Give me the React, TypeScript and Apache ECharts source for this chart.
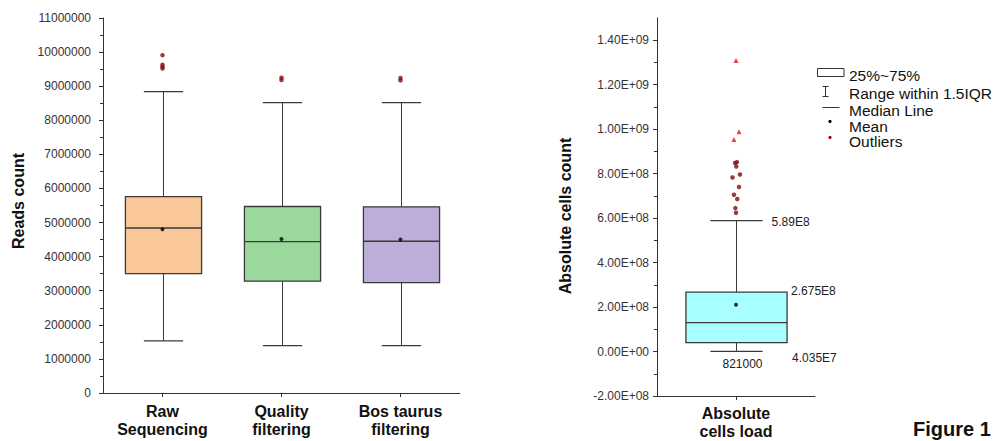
import { useEffect, useRef } from "react";
import * as echarts from "echarts";

// ---- Reads per sample ----
const readCategories = ["Raw\nSequencing", "Quality\nfiltering", "Bos taurus\nfiltering"];
// [lower whisker, Q1, median, Q3, upper whisker]
const readBoxes = [
  [1530000, 3500000, 4840000, 5760000, 8840000],
  [1390000, 3280000, 4440000, 5470000, 8520000],
  [1390000, 3240000, 4450000, 5460000, 8520000],
];
const readMeans = [4800000, 4520000, 4500000];
// [category index, value]
const readOutliers = [
  [0, 9910000], [0, 9630000], [0, 9570000], [0, 9520000],
  [1, 9250000], [1, 9180000],
  [2, 9240000], [2, 9170000],
];
const readColors = ["#fac898", "#9ad89c", "#bcaed8"];
const readTicks = { min: 0, max: 11000000, interval: 1000000 };

// ---- Absolute cells load ----
const cellCategories = ["Absolute\ncells load"];
const cellBox = [821000, 40350000, 130000000, 267500000, 589000000];
const cellMean = 210000000;
// [horizontal jitter inside the band, value]
const cellOutliers = [
  [0.006, 852e6], [-0.006, 848e6], [0.002, 832e6], [0.025, 796e6],
  [-0.022, 783e6], [0.019, 740e6], [-0.013, 705e6], [0.008, 686e6],
  [-0.004, 645e6], [0.0, 624e6],
];
const cellExtremes = [[0.0, 1309e6], [0.019, 988e6], [-0.013, 954e6]];
const cellColors = ["#a8ffff"];
const cellTicks = { min: -2e8, max: 1.5e9, interval: 2e8 };
const cellTickValues = [-2e8, 0, 2e8, 4e8, 6e8, 8e8, 1e9, 1.2e9, 1.4e9];

const legendItems = ["25%~75%", "Range within 1.5IQR", "Median Line", "Mean", "Outliers"];

const FONT = "'Liberation Sans', Arial, Helvetica, sans-serif";
const INK = "#3a3a3a";

function sciTick(v: number): string {
  const [m, e] = v.toExponential(2).split("e");
  const n = parseInt(e, 10);
  const sign = n < 0 ? "-" : "+";
  return `${m}E${sign}${String(Math.abs(n)).padStart(2, "0")}`;
}

function shortSci(v: number): string {
  if (Math.abs(v) < 1e6) return String(v);
  const e = Math.floor(Math.log10(Math.abs(v)));
  const m = parseFloat((v / Math.pow(10, e)).toPrecision(6));
  return `${m}E${e}`;
}

function boxRenderer(colors: string[], annotate: boolean) {
  return (_params: any, api: any) => {
    const cat = api.value(0);
    const lo = api.value(1), q1 = api.value(2), med = api.value(3), q3 = api.value(4), hi = api.value(5);
    const band = api.size([1, 0])[0];
    const cx = Math.round(api.coord([cat, med])[0]) + 0.5;
    const y = (v: number) => api.coord([cat, v])[1];
    const bw = band * 0.64;
    const cw = band * 0.33;
    const line = { stroke: INK, lineWidth: 1 };
    const children: any[] = [
      { type: "line", shape: { x1: cx, y1: y(lo), x2: cx, y2: y(q1) }, style: line },
      { type: "line", shape: { x1: cx, y1: y(q3), x2: cx, y2: y(hi) }, style: line },
      { type: "line", shape: { x1: cx - cw / 2, y1: y(lo), x2: cx + cw / 2, y2: y(lo) }, style: { stroke: INK, lineWidth: 1.3 } },
      { type: "line", shape: { x1: cx - cw / 2, y1: y(hi), x2: cx + cw / 2, y2: y(hi) }, style: { stroke: INK, lineWidth: 1.3 } },
      {
        type: "rect",
        shape: { x: cx - bw / 2, y: y(q3), width: bw, height: y(q1) - y(q3) },
        style: { fill: colors[cat], stroke: INK, lineWidth: 1.3 },
      },
      { type: "line", shape: { x1: cx - bw / 2, y1: y(med), x2: cx + bw / 2, y2: y(med) }, style: { stroke: INK, lineWidth: 1.4 } },
    ];
    if (annotate) {
      const t = { fill: "#222", fontSize: 12, fontFamily: FONT };
      children.push(
        { type: "text", style: { ...t, text: shortSci(hi), x: cx + cw / 2 + 9, y: y(hi) + 1.5, align: "left", verticalAlign: "middle" } },
        { type: "text", style: { ...t, text: shortSci(q3), x: cx + bw / 2 + 4, y: y(q3) - 1.5, align: "left", verticalAlign: "middle" } },
        { type: "text", style: { ...t, text: shortSci(q1), x: cx + bw / 2 + 5, y: y(q1) + 15, align: "left", verticalAlign: "middle" } },
        { type: "text", style: { ...t, text: shortSci(lo), x: cx + 6, y: y(lo) + 13, align: "center", verticalAlign: "middle" } },
      );
    }
    return { type: "group", children };
  };
}

const axisLineStyle = { show: true, onZero: false, lineStyle: { color: "#333", width: 1 } };
const catLabel = {
  interval: 0,
  fontSize: 16,
  fontWeight: "bold" as const,
  color: "#111",
  lineHeight: 18.5,
  fontFamily: FONT,
};

export default function App() {
  const ref = useRef<HTMLDivElement>(null);

  useEffect(() => {
    if (!ref.current) return;
    const chart = echarts.init(ref.current, null, { renderer: "svg" });

    const option: any = {
      animation: false,
      backgroundColor: "#fff",
      textStyle: { fontFamily: FONT },
      grid: [
        { left: 103, top: 18, width: 357, height: 375, containLabel: false, outerBoundsMode: "none" },
        { left: 657, top: 18, width: 158, height: 378, containLabel: false, outerBoundsMode: "none" },
      ],
      xAxis: [
        {
          type: "category",
          gridIndex: 0,
          data: readCategories,
          axisLine: axisLineStyle,
          axisTick: { show: true, alignWithLabel: true, length: 4, lineStyle: { color: "#333" } },
          axisLabel: { ...catLabel, margin: 9 },
          splitLine: { show: false },
        },
        {
          type: "category",
          gridIndex: 1,
          data: cellCategories,
          axisLine: axisLineStyle,
          axisTick: { show: true, alignWithLabel: true, length: 4, lineStyle: { color: "#333" } },
          axisLabel: { ...catLabel, margin: 8 },
          splitLine: { show: false },
        },
        {
          type: "value",
          gridIndex: 1,
          min: -0.5,
          max: 0.5,
          show: false,
          axisLine: { show: false, onZero: false },
        },
      ],
      yAxis: [
        {
          type: "value",
          gridIndex: 0,
          min: readTicks.min,
          max: readTicks.max,
          interval: readTicks.interval,
          axisLine: axisLineStyle,
          axisTick: { show: true, length: 4, lineStyle: { color: "#333" } },
          minorTick: { show: true, splitNumber: 2, length: 3, lineStyle: { color: "#333" } },
          splitLine: { show: false },
          axisLabel: { formatter: (v: number) => String(v), fontSize: 12, color: "#333", margin: 12 },
        },
        {
          type: "value",
          gridIndex: 1,
          min: cellTicks.min,
          max: cellTicks.max,
          interval: cellTicks.interval,
          axisLine: axisLineStyle,
          axisTick: { show: true, length: 4, lineStyle: { color: "#333" }, customValues: cellTickValues },
          minorTick: { show: true, splitNumber: 2, length: 3, lineStyle: { color: "#333" } },
          splitLine: { show: false },
          axisLabel: {
            formatter: (v: number) => (v > cellTickValues[cellTickValues.length - 1] ? "" : sciTick(v)),
            fontSize: 12,
            color: "#333",
            margin: 8,
          },
        },
      ],
      series: [
        {
          type: "custom",
          xAxisIndex: 0,
          yAxisIndex: 0,
          renderItem: boxRenderer(readColors, false),
          encode: { x: 0, y: [1, 2, 3, 4, 5] },
          data: readBoxes.map((b, i) => [i, ...b]),
          z: 2,
        },
        {
          type: "scatter",
          xAxisIndex: 0,
          yAxisIndex: 0,
          symbol: "circle",
          symbolSize: 4,
          itemStyle: { color: "#000" },
          data: readMeans.map((m, i) => [i, m]),
          z: 3,
        },
        {
          type: "scatter",
          xAxisIndex: 0,
          yAxisIndex: 0,
          symbol: "circle",
          symbolSize: 4.5,
          itemStyle: { color: "#8b0a0a" },
          data: readOutliers,
          z: 3,
        },
        {
          type: "custom",
          xAxisIndex: 1,
          yAxisIndex: 1,
          renderItem: boxRenderer(cellColors, true),
          encode: { x: 0, y: [1, 2, 3, 4, 5] },
          data: [[0, ...cellBox]],
          z: 2,
        },
        {
          type: "scatter",
          xAxisIndex: 1,
          yAxisIndex: 1,
          symbol: "circle",
          symbolSize: 4,
          itemStyle: { color: "#000" },
          data: [[0, cellMean]],
          z: 3,
        },
        {
          type: "scatter",
          xAxisIndex: 2,
          yAxisIndex: 1,
          symbol: "circle",
          symbolSize: 4.5,
          itemStyle: { color: "#7d0a0a" },
          data: cellOutliers,
          z: 3,
        },
        {
          type: "scatter",
          xAxisIndex: 2,
          yAxisIndex: 1,
          symbol: "triangle",
          symbolSize: 5,
          itemStyle: { color: "#e3141c" },
          data: cellExtremes,
          z: 3,
        },
      ],
      graphic: [
        {
          type: "text",
          x: 18,
          y: 201,
          rotation: Math.PI / 2,
          style: { text: "Reads count", fontSize: 16, fontWeight: "bold", fontFamily: FONT, fill: "#111", align: "center", verticalAlign: "middle" },
        },
        {
          type: "text",
          x: 565,
          y: 216,
          rotation: Math.PI / 2,
          style: { text: "Absolute cells count", fontSize: 16, fontWeight: "bold", fontFamily: FONT, fill: "#111", align: "center", verticalAlign: "middle" },
        },
        // legend key
        { type: "rect", shape: { x: 817.5, y: 68.5, width: 26.5, height: 8 }, style: { fill: "none", stroke: "#333", lineWidth: 1 } },
        { type: "line", shape: { x1: 822.5, y1: 86.5, x2: 828.5, y2: 86.5 }, style: { stroke: "#333", lineWidth: 1 } },
        { type: "line", shape: { x1: 825.5, y1: 86.5, x2: 825.5, y2: 96.5 }, style: { stroke: "#333", lineWidth: 1 } },
        { type: "line", shape: { x1: 822.5, y1: 96.5, x2: 828.5, y2: 96.5 }, style: { stroke: "#333", lineWidth: 1 } },
        { type: "line", shape: { x1: 822.5, y1: 107.5, x2: 839.5, y2: 107.5 }, style: { stroke: "#333", lineWidth: 1 } },
        { type: "circle", shape: { cx: 830, cy: 121.5, r: 1.6 }, style: { fill: "#000" } },
        { type: "circle", shape: { cx: 830, cy: 137.5, r: 1.6 }, style: { fill: "#a00a0a" } },
        ...legendItems.map((t, i) => ({
          type: "text",
          x: 849,
          y: [75.5, 93, 110, 126.5, 141.5][i],
          style: { text: t, fontSize: 15.5, fontFamily: FONT, fill: "#111", align: "left", verticalAlign: "middle" },
        })),
        {
          type: "text",
          x: 913,
          y: 429,
          style: { text: "Figure 1", fontSize: 20, fontWeight: "bold", fontFamily: FONT, fill: "#111", align: "left", verticalAlign: "middle" },
        },
      ],
    };

    chart.setOption(option);
    return () => chart.dispose();
  }, []);

  return (
    <div
      ref={ref}
      style={{ position: "fixed", left: 0, top: 0, width: 1003, height: 441, background: "#fff" }}
    />
  );
}
